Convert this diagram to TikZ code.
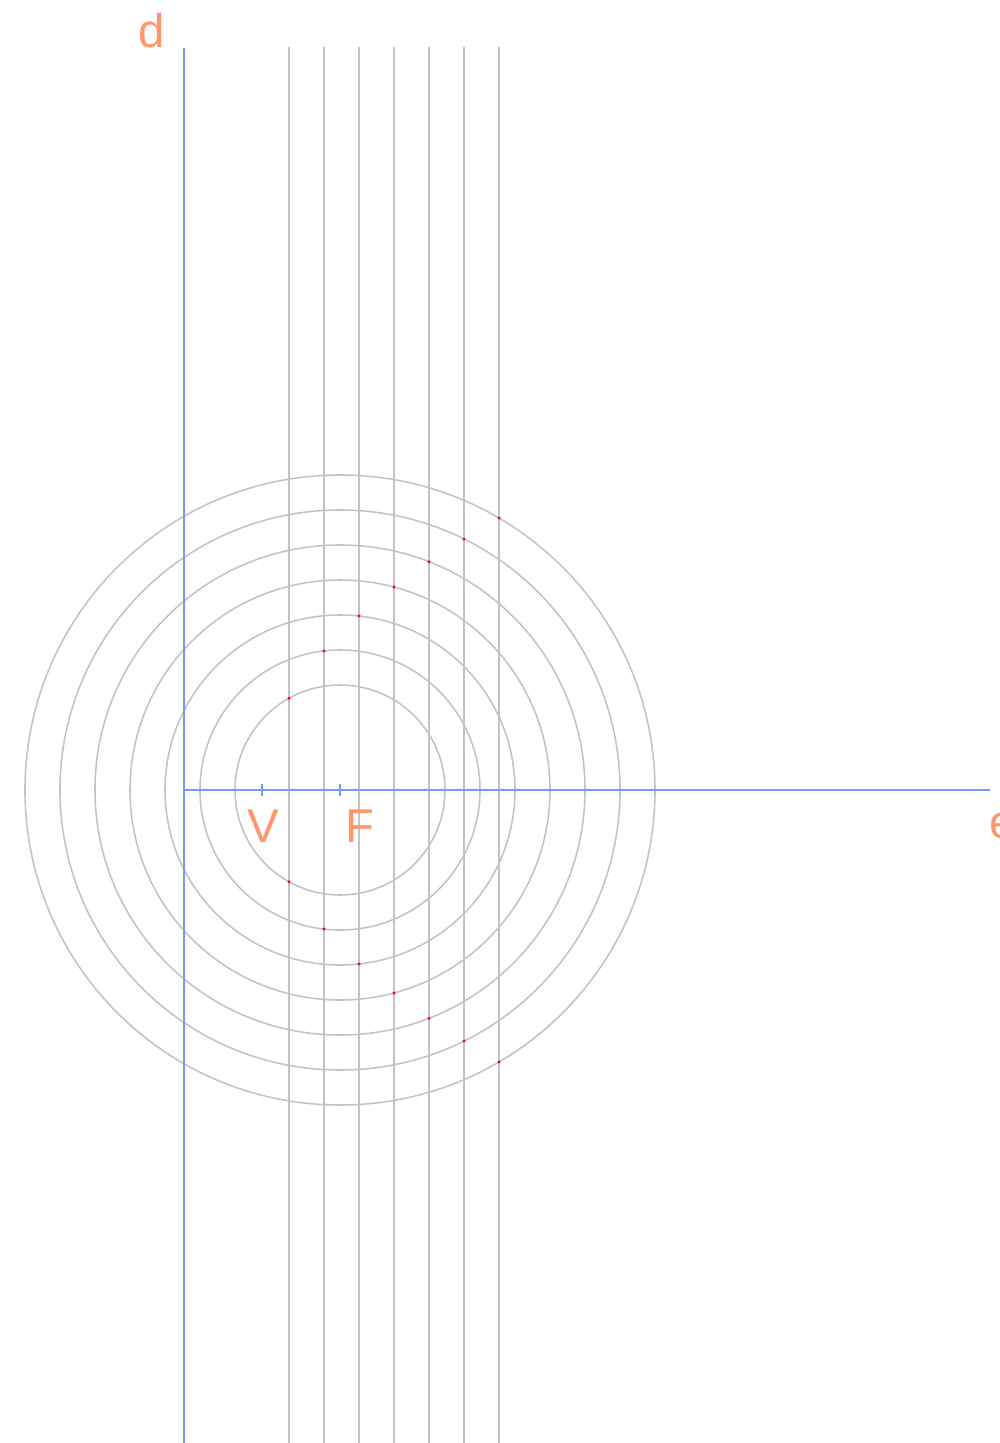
\documentclass[tikz,border=0pt]{standalone}
\usepackage{fontspec}
\setmainfont{Liberation Sans}
\usetikzlibrary{positioning, calc}

\definecolor{axisblue}{RGB}{115,155,250}
\definecolor{labelorange}{RGB}{255,150,110}
\definecolor{constgray}{RGB}{195,195,195}

\begin{document}
\begin{tikzpicture}[
x=0.02cm, y=-0.02cm,
    axis/.style={draw=axisblue, line width=1.1pt},
    guide/.style={draw=constgray, line width=1.1pt},
    ring/.style={draw=constgray, line width=0.9pt},
    lbl/.style={text=labelorange, font=\fontsize{27}{27}\selectfont, inner sep=0pt},
    pt/.style={fill=red, draw=none}
]
    \useasboundingbox (0,0) rectangle (1000,1443);

    % Axes
    \coordinate (dtop) at (184,48);
    \coordinate (dbot) at (184,1443);
    \coordinate (O) at (184,790);
    \coordinate (eend) at (990,790);
    \coordinate (V) at (262,790);
    \coordinate (F) at (340,790);

    % Circles around the focus
    \foreach \r in {105,140,...,315}
        \draw[ring] (F) circle (\r);

    % Parallels to the directrix
    \foreach \r in {105,140,...,315}
        \draw[guide] (184+\r,47) -- (184+\r,1443);

    \draw[axis] (dtop) -- (dbot);
    \draw[axis] (O) -- (eend);
    \draw[axis] (V) ++(0,-6) -- ++(0,12);
    \draw[axis] (F) ++(0,-6) -- ++(0,12);

    % Points of the parabola
    \foreach \r in {105,140,...,315} {
        \pgfmathsetmacro{\dx}{\r-156}
        \pgfmathsetmacro{\dy}{10*sqrt(3.12*\r-243.36)}
        \fill[pt] ($(F)+(\dx,-\dy)$) circle (1.6);
        \fill[pt] ($(F)+(\dx,\dy)$) circle (1.6);
    }

    % Labels
    \node[lbl] (dlab) at (152,31) {d};
    \node[lbl] (elab) at (1003,826) {e};
    \node[lbl] (vlab) at (263,826) {V};
    \node[lbl] (flab) at (360,826) {F};

\end{tikzpicture}
\end{document}
